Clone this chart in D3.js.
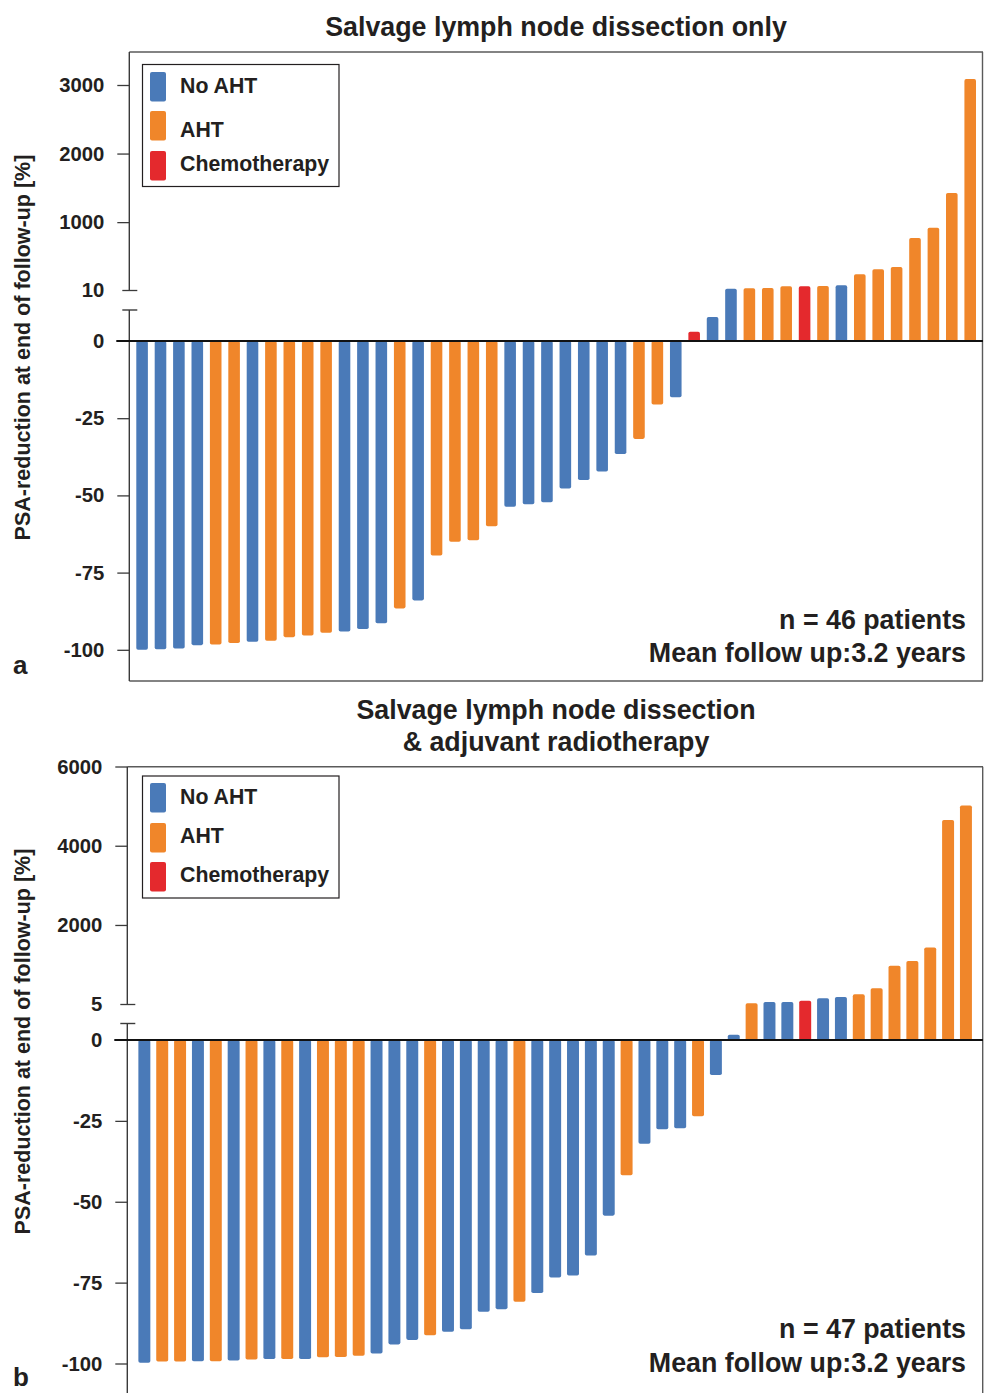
<!DOCTYPE html>
<html>
<head>
<meta charset="utf-8">
<script src="https://cdn.jsdelivr.net/npm/d3@7"></script>
<style>
  html, body { margin: 0; padding: 0; background: #fff; }
  svg text { font-family: "Liberation Sans", Arial, Helvetica, sans-serif; font-weight: bold; fill: #231f20; }
</style>
</head>
<body>
<svg id="chart" width="984" height="1393"></svg>
<script>
// ---------------- DATA ----------------
const legendLabels = ["No AHT", "AHT", "Chemotherapy"];
const groupKeys = ["N", "A", "C"];

// Panel a: Salvage lymph node dissection only (46 patients)
const valuesA = [-100, -99.8, -99.6, -98.5, -98.3, -97.8, -97.4, -97.1, -95.9, -95.4,
  -94.5, -94.1, -93.3, -91.4, -86.6, -84.0, -69.5, -65.0, -64.5, -60.0,
  -53.7, -52.9, -52.2, -47.8, -45.0, -42.3, -36.6, -31.7, -20.6, -18.2,
  1.8, 4.7, 29, 35, 39, 64, 64, 68, 78, 239, 312, 345, 768, 918, 1424, 3086];
const groupsA = ["N","N","N","N","A","A","N","A","A","A",
  "A","N","N","N","A","N","A","A","A","A",
  "N","N","N","N","N","N","N","A","A","N",
  "C","N","N","A","A","A","C","A","N","A","A","A","A","A","A","A"];
const ticksA = [-100, -75, -50, -25, 0, 10, 1000, 2000, 3000];

// Panel b: Salvage lymph node dissection & adjuvant radiotherapy (47 patients)
const valuesB = [-99.8, -99.4, -99.4, -99.3, -99.3, -99.1, -98.8, -98.6, -98.6, -98.6,
  -98.1, -98.0, -97.6, -96.9, -94.1, -92.7, -91.3, -90.2, -89.4, -84.0,
  -83.2, -80.9, -78.2, -73.4, -72.8, -66.6, -54.3, -41.8, -32.1, -27.6,
  -27.3, -23.6, -10.8,
  0.74, 23, 55, 55, 88, 149, 181, 249, 401, 970, 1089, 1434, 4651, 5015];
const groupsB = ["N","A","A","N","A","N","A","N","A","N",
  "A","A","A","N","N","N","A","N","N","N",
  "N","A","N","N","N","N","N","A","N","N",
  "N","A","N",
  "N","A","N","N","C","N","N","A","A","A","A","A","A","A"];
const ticksB = [-100, -75, -50, -25, 0, 5, 2000, 4000, 6000];

// ---------------- STYLE / LAYOUT ----------------
const color = d3.scaleOrdinal().domain(groupKeys).range(["#4a7ab8", "#f0862a", "#e4292d"]);
const svg = d3.select("#chart");

const panels = [
  {
    values: valuesA, groups: groupsA, ticks: ticksA,
    title: ["Salvage lymph node dissection only"], titleY: 36,
    yDomain: [-100, 0, 10, 3000], yRange: [649.8, 341, 290, 85],
    breakHi: 10, breakLoY: 310,
    left: 129.3, right: 982.5, top: 52, bottom: 681, drawBottom: true,
    xRange: [129.3, 983], padIn: 0.37, padOut: 0.38,
    legend: { x: 142.5, y: 64.5, w: 196.5, h: 122, sw: [72, 111, 151], tx: [92.5, 137, 171] },
    note: ["n = 46 patients", "Mean follow up:3.2 years"], noteY: [629, 662],
    letter: "a", letterY: 674, labelY: 347.5
  },
  {
    values: valuesB, groups: groupsB, ticks: ticksB,
    title: ["Salvage lymph node dissection", "& adjuvant radiotherapy"], titleY: 719,
    yDomain: [-100, 0, 5, 6000], yRange: [1363.5, 1040, 1004, 766.5],
    breakHi: 5, breakLoY: 1023.5,
    left: 127.3, right: 982.7, top: 766.7, bottom: 1393, drawBottom: false,
    xRange: [127.3, 983], padIn: 0.33, padOut: 0.62,
    legend: { x: 142.5, y: 776, w: 196.5, h: 122, sw: [783, 823, 862], tx: [803.5, 842.5, 882] },
    note: ["n = 47 patients", "Mean follow up:3.2 years"], noteY: [1338, 1372],
    letter: "b", letterY: 1386, labelY: 1041.5
  }
];

panels.forEach(p => {
  const g = svg.append("g");
  const n = p.values.length;
  const x = d3.scaleBand().domain(d3.range(n)).range(p.xRange).paddingInner(p.padIn).paddingOuter(p.padOut);
  const y = d3.scaleLinear().domain(p.yDomain).range(p.yRange);

  // frame
  const frameColor = "#5a5a5a";
  g.append("line").attr("x1", p.left).attr("x2", 983).attr("y1", p.top).attr("y2", p.top)
    .attr("stroke", frameColor).attr("stroke-width", 1.4);
  g.append("line").attr("x1", p.right).attr("x2", p.right).attr("y1", p.top).attr("y2", p.bottom)
    .attr("stroke", frameColor).attr("stroke-width", 1.4);
  if (p.drawBottom) {
    g.append("line").attr("x1", p.left).attr("x2", 983).attr("y1", p.bottom).attr("y2", p.bottom)
      .attr("stroke", frameColor).attr("stroke-width", 1.4);
  }

  // bars
  g.append("g").selectAll("rect").data(p.values).join("rect")
    .attr("x", (d, i) => x(i))
    .attr("width", x.bandwidth())
    .attr("y", d => d >= 0 ? y(d) : y(0))
    .attr("height", d => Math.abs(y(d) - y(0)))
    .attr("rx", 1.8)
    .attr("fill", (d, i) => color(p.groups[i]));

  // y axis (ticks + labels via d3 axis)
  const axis = d3.axisLeft(y).tickValues(p.ticks).tickSize(12).tickPadding(13).tickFormat(d => String(d));
  const ag = g.append("g").attr("transform", `translate(${p.left},0)`).call(axis);
  ag.select(".domain").remove();
  ag.selectAll(".tick line").attr("stroke", "#3a3a3a").attr("stroke-width", 1.3);
  ag.selectAll(".tick text").style("font-size", "20.3px").attr("fill", "#231f20")
    .style("font-family", '"Liberation Sans", Arial, sans-serif').style("font-weight", "bold");
  // break tick: crosses the axis
  ag.selectAll(".tick").filter(d => d === p.breakHi).select("line")
    .attr("x1", 8).attr("x2", -7);
  ag.selectAll(".tick").filter(d => d === 0).select("line").remove();

  // axis line with break
  const yHi = y(p.breakHi);
  g.append("line").attr("x1", p.left).attr("x2", p.left).attr("y1", p.top).attr("y2", yHi)
    .attr("stroke", "#3a3a3a").attr("stroke-width", 1.4);
  g.append("line").attr("x1", p.left).attr("x2", p.left).attr("y1", p.breakLoY).attr("y2", p.bottom)
    .attr("stroke", "#3a3a3a").attr("stroke-width", 1.4);
  g.append("line").attr("x1", p.left - 7).attr("x2", p.left + 8).attr("y1", p.breakLoY).attr("y2", p.breakLoY)
    .attr("stroke", "#3a3a3a").attr("stroke-width", 1.4);

  // zero line
  g.append("line").attr("x1", p.left - 13).attr("x2", 983).attr("y1", y(0)).attr("y2", y(0))
    .attr("stroke", "#111").attr("stroke-width", 2);

  // title
  p.title.forEach((t, i) => {
    g.append("text").attr("x", 556).attr("y", p.titleY + i * 32).attr("text-anchor", "middle")
      .style("font-size", "26.8px").text(t);
  });

  // y label
  g.append("text").attr("transform", `translate(30,${p.labelY}) rotate(-90)`)
    .attr("text-anchor", "middle").style("font-size", "21.5px")
    .text("PSA-reduction at end of follow-up [%]");

  // legend
  const L = p.legend;
  const lg = g.append("g");
  lg.append("rect").attr("x", L.x).attr("y", L.y).attr("width", L.w).attr("height", L.h)
    .attr("fill", "#fff").attr("stroke", "#231f20").attr("stroke-width", 1.2);
  groupKeys.forEach((k, i) => {
    lg.append("rect").attr("x", 150).attr("y", L.sw[i]).attr("width", 16).attr("height", 29.5)
      .attr("rx", 2).attr("fill", color(k));
    lg.append("text").attr("x", 180).attr("y", L.tx[i]).style("font-size", "21.3px").text(legendLabels[i]);
  });

  // notes
  p.note.forEach((t, i) => {
    g.append("text").attr("x", 966).attr("y", p.noteY[i]).attr("text-anchor", "end")
      .style("font-size", "26.8px").text(t);
  });

  // panel letter
  g.append("text").attr("x", 13).attr("y", p.letterY).style("font-size", "26px").text(p.letter);
});
</script>
</body>
</html>
